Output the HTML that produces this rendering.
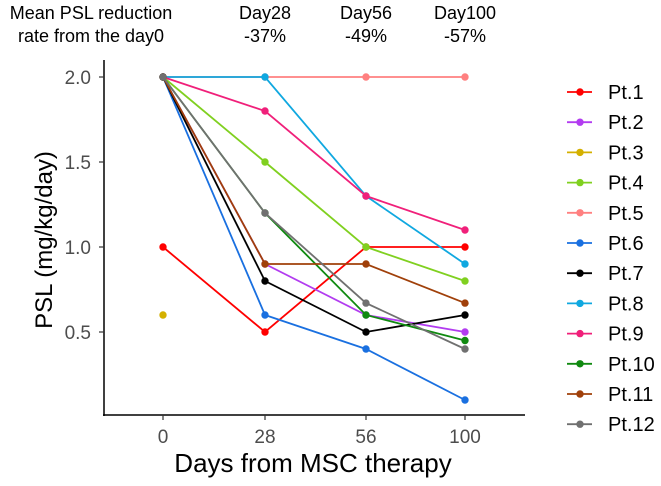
<!DOCTYPE html>
<html><head><meta charset="utf-8"><style>
body{margin:0;background:#fff;font-family:"Liberation Sans",sans-serif}
svg text{font-family:"Liberation Sans",sans-serif}
</style></head><body>
<svg id="c" width="661" height="481" xmlns="http://www.w3.org/2000/svg">
<g font-size="18" fill="#000" text-anchor="middle">
<text x="91" y="19">Mean PSL reduction</text>
<text x="91" y="42">rate from the day0</text>
</g>
<g id="plot"></g>
</svg>
<script>
const days=[0,28,56,100];
const headerDays=["Day28","Day56","Day100"];
const headerRates=["-37%","-49%","-57%"];
const names=["Pt.1","Pt.2","Pt.3","Pt.4","Pt.5","Pt.6","Pt.7","Pt.8","Pt.9","Pt.10","Pt.11","Pt.12"];
const colors=["#ff0000","#b23cf0","#d4b000","#80d020","#ff8080","#1a70e0","#000000","#10a8e0","#f0207a","#108a10","#a0400a","#707070"];
const s1=[1.0,0.5,1.0,1.0];
const s2=[2.0,0.9,0.6,0.5];
const s3=[0.6,null,null,null];
const s4=[2.0,1.5,1.0,0.8];
const s5=[2.0,2.0,2.0,2.0];
const s6=[2.0,0.6,0.4,0.1];
const s7=[2.0,0.8,0.5,0.6];
const s8=[2.0,2.0,1.3,0.9];
const s9=[2.0,1.8,1.3,1.1];
const s10=[2.0,1.2,0.6,0.45];
const s11=[2.0,0.9,0.9,0.67];
const s12=[2.0,1.2,0.67,0.4];
const series=[s1,s2,s3,s4,s5,s6,s7,s8,s9,s10,s11,s12];
const yTicks=[0.5,1.0,1.5,2.0];
const NS="http://www.w3.org/2000/svg";
const g=document.getElementById('plot');
const svg=document.getElementById('c');
const xs=[163,265,366,465];
function x(i){return xs[i];}
function y(v){return 77+(2-v)*170;}
function el(t,a,p){const e=document.createElementNS(NS,t);for(const k in a)e.setAttribute(k,a[k]);(p||g).appendChild(e);return e;}
headerDays.forEach((d,i)=>{
 const t=el('text',{x:x(i+1),y:19,'font-size':18,'text-anchor':'middle'},svg);t.textContent=d;
 
 
 const r=el('text',{x:x(i+1),y:42,'font-size':18,'text-anchor':'middle'},svg);r.textContent=headerRates[i];
 
 
});
const ya=el('line',{x1:104,y1:60,x2:104,y2:416,stroke:'#000','stroke-width':1.5});


const xa=el('line',{x1:103,y1:415,x2:525,y2:415,stroke:'#000','stroke-width':1.5});


yTicks.forEach(v=>{
 el('line',{x1:99,x2:104,y1:y(v),y2:y(v),stroke:'#333','stroke-width':1.2});
 const t=el('text',{x:91,y:y(v)+7,'font-size':19,'text-anchor':'end',fill:'#4d4d4d'});t.textContent=v.toFixed(1);
 
 
});
days.forEach((d,i)=>{
 el('line',{x1:x(i),x2:x(i),y1:415,y2:420,stroke:'#333','stroke-width':1.2});
 const t=el('text',{x:x(i),y:443,'font-size':19,'text-anchor':'middle',fill:'#4d4d4d'});t.textContent=d;
 
 
});
const xt=el('text',{x:313,y:472,'font-size':26,'text-anchor':'middle'});xt.textContent='Days from MSC therapy';


const yt=el('text',{x:0,y:0,'font-size':24,'text-anchor':'middle',transform:'translate(52,240) rotate(-90)'});yt.textContent='PSL (mg/kg/day)';


series.forEach((s,k)=>{
 const pts=[];s.forEach((v,i)=>{if(v!=null)pts.push([x(i),y(v)]);});
 if(pts.length>1){const p=el('polyline',{points:pts.map(p=>p.join(',')).join(' '),fill:'none',stroke:colors[k],'stroke-width':1.8});
  
  }
 pts.forEach(p=>{const c=el('circle',{cx:p[0],cy:p[1],r:3.7,fill:colors[k]});
  
  });
 const ly=92+k*30.2;
 const lg=el('g',{});
 
 
 el('line',{x1:567,x2:592,y1:ly,y2:ly,stroke:colors[k],'stroke-width':1.8},lg);
 el('circle',{cx:580,cy:ly,r:3.7,fill:colors[k]},lg);
 const t=el('text',{x:608,y:ly+7,'font-size':20},lg);t.textContent=names[k];
});
</script>
</body></html>
